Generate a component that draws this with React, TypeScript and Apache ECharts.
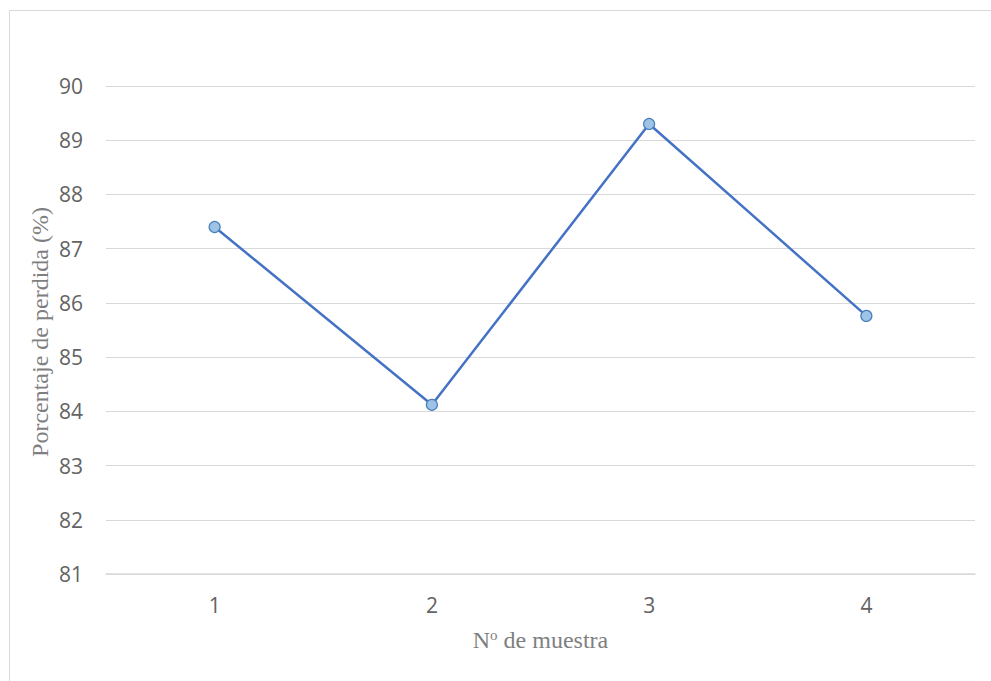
import React, { useEffect, useRef } from "react";
import * as echarts from "echarts";

// Sample numbers and measured loss percentages
const muestras = ["1", "2", "3", "4"];
const perdida = [87.4, 84.12, 89.3, 85.76];

const TITLE_FONT = "Liberation Serif";
const TITLE_COLOR = "#7f7f7f";
const LABEL_COLOR = "#636363";

export default function App() {
  const ref = useRef<HTMLDivElement>(null);

  useEffect(() => {
    if (!ref.current) return;
    const chart = echarts.init(ref.current, null, { renderer: "svg" });
    chart.setOption({
      animation: false,
      backgroundColor: "#ffffff",
      graphic: [
        {
          type: "rect",
          shape: { x: 9.5, y: 10.5, width: 1000, height: 700 },
          style: { fill: "none", stroke: "#d9d9d9", lineWidth: 1 },
          silent: true,
        },
        {
          type: "text",
          x: 40,
          y: 332,
          rotation: Math.PI / 2,
          style: {
            text: "Porcentaje de perdida (%)",
            fontFamily: TITLE_FONT,
            fontSize: 24,
            fill: TITLE_COLOR,
            align: "center",
            verticalAlign: "middle",
          },
          silent: true,
        },
      ],
      grid: { left: 106, right: 16, top: 86, bottom: 107 },
      xAxis: {
        type: "category",
        data: muestras,
        boundaryGap: true,
        name: "N{sup|o} de muestra",
        nameLocation: "middle",
        nameGap: 53,
        nameTextStyle: {
          fontFamily: TITLE_FONT,
          fontSize: 24,
          color: TITLE_COLOR,
          rich: {
            sup: {
              fontFamily: TITLE_FONT,
              fontSize: 15,
              color: TITLE_COLOR,
              verticalAlign: "top",
              padding: [0, 0, 10, 0],
            },
          },
        },
        axisLine: { show: true, lineStyle: { color: "#d9d9d9", width: 1.5 } },
        axisTick: { show: false },
        axisLabel: {
          margin: 20,
          fontFamily: "Open Sans",
          fontSize: 21,
          color: LABEL_COLOR,
        },
      },
      yAxis: {
        type: "value",
        min: 81,
        max: 90,
        interval: 1,
        axisLine: { show: false },
        axisTick: { show: false },
        axisLabel: {
          margin: 23,
          fontFamily: "Open Sans",
          fontSize: 21,
          color: LABEL_COLOR,
        },
        splitLine: { lineStyle: { color: "#d9d9d9", width: 1.2 } },
      },
      series: [
        {
          type: "line",
          data: perdida,
          symbol: "circle",
          symbolSize: 11,
          lineStyle: { color: "#4472c4", width: 2.5 },
          itemStyle: { color: "#9dc3e6", borderColor: "#4a7ebb", borderWidth: 1.2 },
        },
      ],
    });
    return () => chart.dispose();
  }, []);

  return (
    <div
      ref={ref}
      style={{ position: "fixed", left: 0, top: 0, width: 991, height: 681 }}
    />
  );
}
